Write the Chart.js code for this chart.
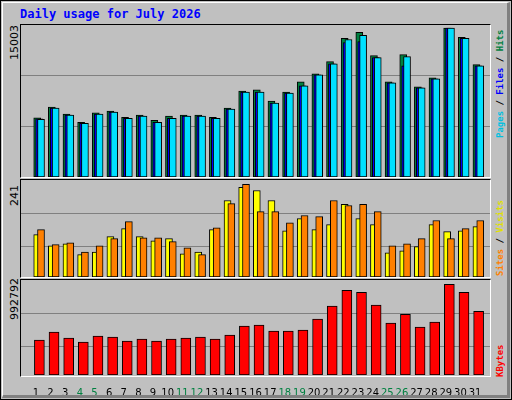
<!DOCTYPE html>
<html>
<head>
<meta charset="utf-8">
<script src="https://cdn.jsdelivr.net/npm/chart.js@4.4.1/dist/chart.umd.min.js"></script>
<style>
  body { margin: 0; background: #fff; }
  #frame { position: absolute; left: 0; top: 0; width: 510px; height: 398px; border: 1px solid #000; background: #C0C0C0; }
  #bevel { position: absolute; left: 1px; top: 1px; width: 504px; height: 392px; border-style: solid; border-width: 1px 3px 3px 1px; border-color: #fff #808080 #808080 #fff; }
  .panel { position: absolute; border-style: solid; border-width: 1px; border-color: #000 #fff #fff #000; }
  .chart { position: absolute; }
  .title { position: absolute; left: 20px; top: 7px; font: bold 12px "DejaVu Sans Mono", monospace; color: #0000FF; }
  .rot { position: absolute; white-space: nowrap; transform-origin: left top; transform: rotate(-90deg); }
  .ylab { font: 11px "DejaVu Sans", sans-serif; color: #000; }
  .leg { font: bold 9px "DejaVu Sans Mono", monospace; }
</style>
</head>
<body>
<div id="frame"><div id="bevel"></div></div>
<div class="title">Daily usage for July 2026</div>

<div class="panel" style="left:20px;top:24px;width:469px;height:152px"></div>
<div class="panel" style="left:20px;top:179px;width:469px;height:97px"></div>
<div class="panel" style="left:20px;top:279px;width:469px;height:96px"></div>

<div class="chart" style="left:21px;top:25px;width:469px;height:152px"><canvas id="c1"></canvas></div>
<div class="chart" style="left:21px;top:181px;width:469px;height:96px"><canvas id="c2"></canvas></div>
<div class="chart" style="left:21px;top:281px;width:469px;height:114px"><canvas id="c3"></canvas></div>

<div class="rot ylab" style="left:8px;top:60px">15003</div>
<div class="rot ylab" style="left:8px;top:206px">241</div>
<div class="rot ylab" style="left:8px;top:320px">992792</div>

<div class="rot leg" style="left:495px;top:138px"><span style="color:#00C0E0">Pages</span> / <span style="color:#0000FF">Files</span> / <span style="color:#008040">Hits</span></div>
<div class="rot leg" style="left:495px;top:276px"><span style="color:#FF8000">Sites</span> / <span style="color:#E0E000">Visits</span></div>
<div class="rot leg" style="left:495px;top:377px"><span style="color:#FF0000">KBytes</span></div>

<script>
const days = Array.from({ length: 31 }, (_, i) => i + 1);
const weekendDays = [4, 5, 11, 12, 18, 19, 25, 26];

const hits = [5950, 7040, 6325, 5510, 6460, 6630, 6020, 6225, 5715, 6125, 6225, 6225, 6020, 6935, 8665, 8770,
  7650, 8565, 9580, 10395, 11615, 13955, 14565, 12225, 9580, 12330, 9070, 9990, 15003, 14055, 11310];
const files = [5850, 6935, 6225, 5410, 6325, 6530, 5920, 6125, 5510, 5920, 6125, 6125, 5920, 6835, 8565, 8565,
  7445, 8460, 9175, 10295, 11410, 13545, 13650, 12020, 9480, 11205, 8970, 9890, 15003, 13955, 11205];
const pages = [5815, 6935, 6225, 5410, 6325, 6530, 5920, 6125, 5510, 5920, 6125, 6125, 5920, 6835, 8565, 8565,
  7445, 8460, 9175, 10295, 11410, 13850, 14260, 12020, 9480, 12125, 8970, 9890, 15003, 13955, 11205];

const visits = [110, 81, 86, 58, 65, 105, 126, 105, 94, 100, 60, 65, 123, 199, 233, 225,
  199, 120, 152, 123, 136, 189, 152, 136, 63, 68, 79, 136, 118, 120, 131];
const sites = [123, 84, 89, 65, 81, 100, 144, 102, 102, 92, 76, 58, 128, 191, 241, 170,
  170, 141, 160, 157, 199, 186, 189, 170, 81, 86, 100, 147, 100, 126, 147];

const kbytes = [382000, 469000, 404000, 360000, 425000, 415000, 371000, 393000, 371000, 393000, 404000, 415000,
  393000, 436000, 535000, 545000, 480000, 480000, 491000, 611000, 753000, 927000, 906000, 764000, 567000,
  665000, 524000, 578000, 992792, 906000, 698000];

const GRID = "#808080";

function series(values, offset) {
  return values.map((v, i) => ({ x: days[i] + offset, y: v }));
}

function bar(values, offset, color, thickness, order) {
  return {
    data: series(values, offset),
    backgroundColor: color,
    borderColor: "#000",
    borderWidth: 1,
    borderSkipped: false,
    barThickness: thickness,
    grouped: false,
    order,
  };
}

function makeChart(id, datasets, max, gridFractions, showX) {
  return new Chart(document.getElementById(id), {
    type: "bar",
    data: { datasets },
    options: {
      responsive: true,
      maintainAspectRatio: false,
      animation: false,
      layout: { padding: 0 },
      plugins: { legend: { display: false }, tooltip: { enabled: false } },
      scales: {
        x: {
          type: "linear",
          min: 0.5,
          max: 31.5,
          display: showX,
          grid: { display: false },
          border: { display: false },
          afterBuildTicks: (axis) => { axis.ticks = days.map((d) => ({ value: d })); },
          afterFit: (axis) => { axis.height = showX ? 20 : 0; },
          ticks: {
            autoSkip: false,
            maxRotation: 0,
            padding: 4,
            font: { family: "DejaVu Sans", size: 10 },
            color: (ctx) => (weekendDays.includes(ctx.tick.value) ? "#008040" : "#000"),
          },
        },
        y: {
          min: 0,
          max,
          afterBuildTicks: (axis) => { axis.ticks = gridFractions.map((f) => ({ value: max * f })); },
          afterFit: (axis) => { axis.width = 0; },
          ticks: { display: false },
          border: { display: false },
          grid: { color: GRID, lineWidth: 1, drawTicks: false },
        },
      },
    },
  });
}

makeChart("c1", [
  bar(pages, 0.35, "#00E0FF", 7, 0),
  bar(files, 0.22, "#0000FF", 7, 1),
  bar(hits, 0.09, "#008040", 7, 2),
], 15003 * 150.5 / 147.5, [0.329, 0.668], false);

makeChart("c2", [
  bar(sites, 0.35, "#FF8000", 7, 0),
  bar(visits, 0.09, "#FFFF00", 7, 1),
], 241 * 95.3 / 92, [0.315, 0.661], false);

makeChart("c3", [
  bar(kbytes, 0.24, "#FF0000", 10, 0),
], 992792 * 94.3 / 91, [0.307, 0.657], true);
</script>
</body>
</html>
